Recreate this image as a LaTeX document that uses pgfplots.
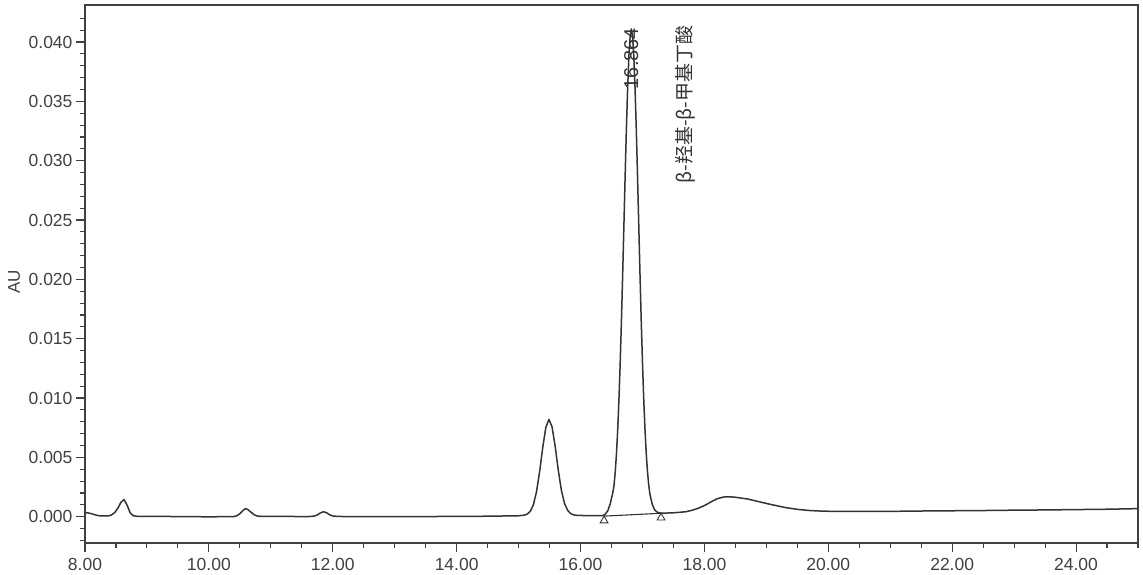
\documentclass[border=0pt]{standalone}
\usepackage{fontspec}
\setmainfont{Liberation Sans}
\newfontfamily\cjk{Noto Sans CJK SC}
\usepackage{pgfplots}
\usepackage{pgfplotstable}
\pgfplotsset{compat=1.18}
\pgfplotstableread{
x y
8.00 0.00035
8.05 0.00032
8.10 0.00026
8.15 0.00018
8.20 0.00011
8.25 0.00007
8.30 0.00006
8.35 0.00006
8.40 0.00009
8.43 0.00016
8.48 0.00035
8.53 0.00071
8.58 0.00121
8.63 0.00145
8.68 0.00097
8.73 0.00032
8.78 0.00008
8.85 0.00003
9.00 0.00002
9.30 0.00002
9.60 0.00001
10.00 -0.00001
10.40 0.00001
10.45 0.00008
10.50 0.00025
10.55 0.00053
10.59 0.00068
10.63 0.00060
10.68 0.00038
10.73 0.00017
10.78 0.00006
10.85 0.00003
11.00 0.00003
11.30 0.00002
11.60 0.00001
11.70 0.00005
11.75 0.00015
11.80 0.00032
11.85 0.00042
11.90 0.00033
11.95 0.00016
12.00 0.00006
12.10 0.00002
12.50 0.00000
13.00 0.00000
13.50 0.00001
14.00 0.00003
14.50 0.00004
15.00 0.00008
15.09 0.00013
15.14 0.00022
15.19 0.00046
15.24 0.00102
15.29 0.00212
15.34 0.00381
15.39 0.00583
15.44 0.00753
15.49 0.00820
15.54 0.00758
15.59 0.00595
15.64 0.00395
15.69 0.00225
15.74 0.00114
15.79 0.00055
15.84 0.00026
15.89 0.00015
15.95 0.00011
16.05 0.00010
16.20 0.00010
16.32 0.00010
16.36 0.00010
16.40 0.00022
16.44 0.00050
16.48 0.00110
16.52 0.00200
16.54 0.00260
16.56 0.00375
16.58 0.00530
16.60 0.00730
16.62 0.00985
16.64 0.01290
16.66 0.01643
16.68 0.02035
16.70 0.02451
16.72 0.02868
16.74 0.03262
16.76 0.03606
16.78 0.03874
16.80 0.04043
16.82 0.04110
16.84 0.04051
16.86 0.03882
16.88 0.03614
16.90 0.03270
16.92 0.02876
16.94 0.02459
16.96 0.02043
16.98 0.01651
17.00 0.01300
17.02 0.00995
17.04 0.00742
17.06 0.00540
17.08 0.00386
17.10 0.00272
17.12 0.00190
17.16 0.00100
17.20 0.00055
17.24 0.00038
17.28 0.00032
17.30 0.00030
17.40 0.00031
17.50 0.00033
17.60 0.00037
17.70 0.00042
17.80 0.00054
17.90 0.00071
18.00 0.00094
18.10 0.00123
18.20 0.00150
18.30 0.00165
18.35 0.00168
18.40 0.00168
18.50 0.00164
18.70 0.00149
18.90 0.00124
19.10 0.00100
19.30 0.00078
19.50 0.00062
19.70 0.00052
19.90 0.00047
20.20 0.00044
20.60 0.00044
21.00 0.00045
21.50 0.00048
22.00 0.00050
22.50 0.00052
23.00 0.00055
23.50 0.00057
24.00 0.00060
24.50 0.00063
25.00 0.00068
}\chrom
\begin{document}
\begin{tikzpicture}
\begin{axis}[
  name=ax,
  scale only axis,
  width=1053pt, height=538pt,
  xmin=8, xmax=25,
  ymin=-0.002216, ymax=0.04312,
  axis line style={black!75, line width=1.3pt},
  tick style={black!75, line width=1.1pt},
  tick align=outside,
  tick pos=left,
  major tick length=9pt,
  minor tick length=4.5pt,
  xtick={8,10,12,14,16,18,20,22,24},
  minor xtick={8.5,9,...,24.5,25},
  ytick={0,0.005,0.01,0.015,0.02,0.025,0.03,0.035,0.04},
  minor ytick={-0.002,-0.001,0.001,0.002,0.003,0.004,0.006,0.007,0.008,0.009,0.011,0.012,0.013,0.014,0.016,0.017,0.018,0.019,0.021,0.022,0.023,0.024,0.026,0.027,0.028,0.029,0.031,0.032,0.033,0.034,0.036,0.037,0.038,0.039,0.041,0.042},
  scaled x ticks=false,
  scaled y ticks=false,
  xticklabel style={yshift=-3pt, /pgf/number format/.cd, fixed, fixed zerofill, precision=2, assume math mode=true},
  yticklabel style={/pgf/number format/.cd, fixed, fixed zerofill, precision=3, assume math mode=true},
  ticklabel style={font=\fontsize{17.5}{17.5}\selectfont, text=black!75},
  ylabel={AU},
  every axis y label/.style={at={(axis description cs:-0.0674,0.485)}, rotate=90, anchor=center, font=\fontsize{17}{17}\selectfont, text=black!75},
  clip=false,
]
\addplot[black!80, line width=1.5pt, line join=round] table[x=x, y=y] {\chrom};
\addplot[black!80, line width=1.1pt] coordinates {(16.38,0.00005) (17.30,0.00029)};
\addplot[only marks, mark=triangle, mark size=4.5pt, black!80, line width=0.9pt, mark options={yshift=-4.5pt}] coordinates {(16.38,0.00005) (17.30,0.00029)};
\node[rotate=90, anchor=east, inner sep=0pt, font=\fontsize{20}{20}\selectfont, text=black!80] at (axis cs:16.82,0.0412) {16.864};
\node[rotate=90, anchor=east, inner sep=0pt, font=\cjk\fontsize{19}{19}\selectfont, text=black!80] at (axis cs:17.69,0.0414) {β-羟基-β-甲基丁酸};
\end{axis}
\pgfresetboundingbox
\path ([shift={(-85pt,-31pt)}]ax.south west) rectangle ([shift={(5pt,5pt)}]ax.north east);
\end{tikzpicture}
\end{document}
